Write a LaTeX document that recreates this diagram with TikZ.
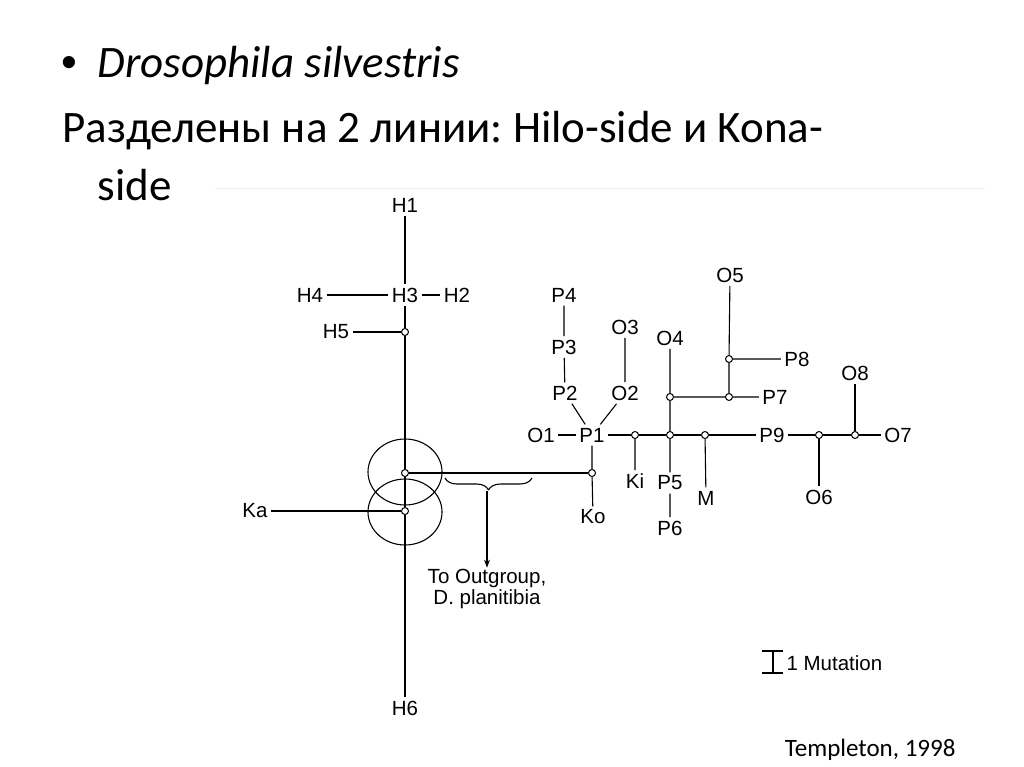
\documentclass[tikz,border=0pt]{standalone}
\usepackage{fontspec}
\setmainfont{Carlito}
\newfontfamily\treefont{Liberation Sans}
\usetikzlibrary{arrows.meta,decorations.pathreplacing}
\frenchspacing
\tikzset{
	lab/.style={font=\treefont\fontsize{20.5}{22}\selectfont,inner sep=3pt},
	dot/.style={circle,draw,line width=1pt,minimum size=7pt,inner sep=0pt},
	title/.style={anchor=base west,inner sep=0pt,font=\fontsize{45}{54}\selectfont},
}
\begin{document}
\begin{tikzpicture}[x=1pt,y=-1pt,line join=bevel,line width=1.1pt]
	\useasboundingbox (0,0) rectangle (1024,767) ;
	% slide text
	\node[title,font=\treefont\fontsize{45}{54}\selectfont] (bul) at (61,78) {•} ;
	\node[title] (sp) at (97,78) {\textit{Drosophila silvestris}} ;
	\node[title] (l2) at (62,143) {Разделены на 2 линии: Hilo-side и Kona-} ;
	\node[title] (l3) at (97,201) {side} ;
	\node[anchor=base east,inner sep=0pt,font=\fontsize{25}{30}\selectfont] (ref) at (956,756) {Templeton, 1998} ;
	\draw[line width=0.6pt,black!8] (215,188) -- (985,188) ;
	% Hilo side
	\node[lab] (H1) at (405,205) {H1} ;
	\node[lab] (H3) at (405,295) {H3} ;
	\node[lab] (H4) at (310,295) {H4} ;
	\node[lab] (H2) at (457,295) {H2} ;
	\node[lab] (H5) at (336,332) {H5} ;
	\node[dot] (cH5) at (405,332) {} ;
	\node[dot] (cU) at (405,473) {} ;
	\node[dot] (cL) at (405,511) {} ;
	\node[lab] (Ka) at (255,511) {Ka} ;
	\node[lab] (H6) at (405,708) {H6} ;
	\draw (H1) -- (H3) -- (cH5) -- (cU) -- (cL) -- (H6) ;
	\draw (H4) -- (H3) -- (H2) (H5) -- (cH5) (Ka) -- (cL) ;
	\draw (405,472) ellipse [x radius=37pt,y radius=33pt] ;
	\draw (405,512) ellipse [x radius=37pt,y radius=33pt] ;
	% Kona side
	\node[lab] (O1) at (541,435) {O1} ;
	\node[lab] (P1) at (592,435) {P1} ;
	\node[lab] (P2) at (565,393) {P2} ;
	\node[lab] (P3) at (564,347) {P3} ;
	\node[lab] (P4) at (564,295) {P4} ;
	\node[lab] (O2) at (625,393) {O2} ;
	\node[lab] (O3) at (625,327) {O3} ;
	\node[dot] (c1) at (635,435) {} ;
	\node[dot] (c2) at (670,435) {} ;
	\node[dot] (c3) at (705,435) {} ;
	\node[lab] (P9) at (772,435) {P9} ;
	\node[dot] (c4) at (819,435) {} ;
	\node[dot] (c5) at (855,435) {} ;
	\node[lab] (O7) at (898,435) {O7} ;
	\node[lab] (Ki) at (635,481) {Ki} ;
	\node[lab] (P5) at (670,483) {P5} ;
	\node[lab] (P6) at (670,528) {P6} ;
	\node[lab] (M) at (706,498) {M} ;
	\node[dot] (cKo) at (592,473) {} ;
	\node[lab] (Ko) at (593,517) {Ko} ;
	\node[dot] (c6) at (670,397) {} ;
	\node[lab] (O4) at (670,338) {O4} ;
	\node[dot] (c7) at (729,397) {} ;
	\node[lab] (P7) at (775,397) {P7} ;
	\node[dot] (c8) at (729,359) {} ;
	\node[lab] (P8) at (797,359) {P8} ;
	\node[lab] (O5) at (730,275) {O5} ;
	\node[lab] (O6) at (819,497) {O6} ;
	\node[lab] (O8) at (855,373) {O8} ;
	\draw (O1) -- (P1) -- (c1) -- (c2) -- (c3) -- (P9) -- (c4) -- (c5) -- (O7) ;
	\draw (P4) -- (P3) -- (P2) -- (P1) (O3) -- (O2) -- (P1) ;
	\draw (P1) -- (cKo) -- (Ko) (c1) -- (Ki) (c2) -- (P5) -- (P6) (c3) -- (M) ;
	\draw (c2) -- (c6) -- (O4) (c6) -- (c7) -- (P7) (c7) -- (c8) -- (O5) (c8) -- (P8) ;
	\draw (c4) -- (O6) (c5) -- (O8) ;
	\draw (cU) -- (cKo) ;
	% outgroup
	\draw[decorate,decoration={brace,amplitude=12pt,mirror}] (445,478) -- (532,478) ;
	\coordinate (tip) at (487,491) ;
	\node[lab,align=center,inner sep=1pt,font=\treefont\fontsize{20.5}{21}\selectfont] (out) at (487,589) {To Outgroup,\\D. planitibia} ;
	\draw[-{Stealth[length=8pt,width=6pt]}] (tip) -- (out) ;
	% scale
	\draw (762,651) -- (783,651) (773,651) -- (773,673) (762,673) -- (783,673) ;
	\node[lab,anchor=west,inner sep=1pt] (mut) at (785,663) {1 Mutation} ;
\end{tikzpicture}
\end{document}
